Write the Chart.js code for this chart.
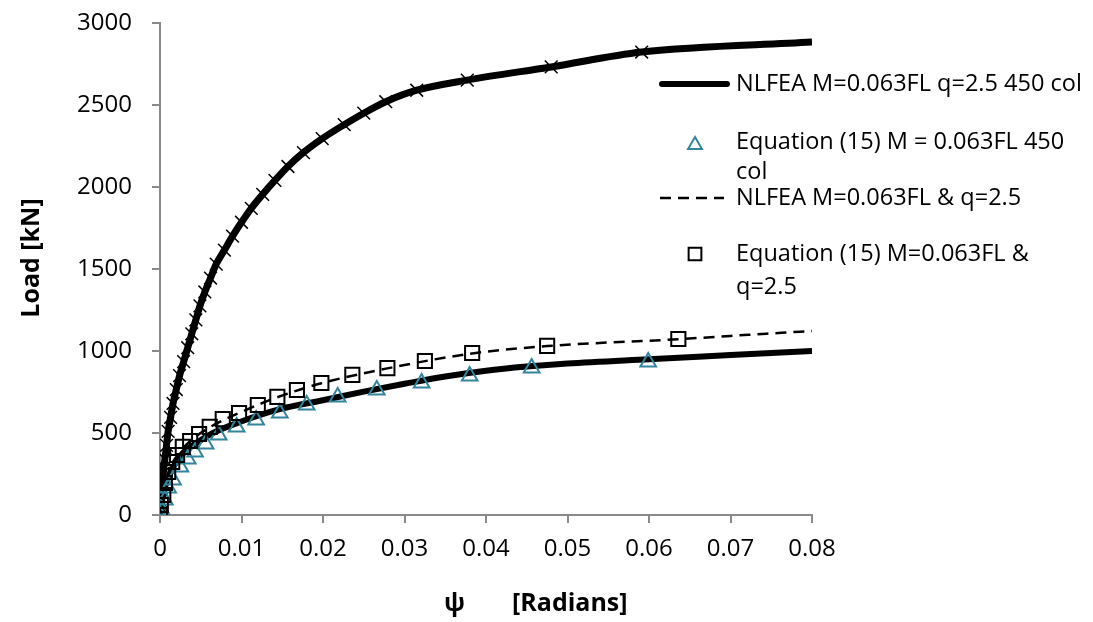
<!DOCTYPE html>
<html>
<head>
<meta charset="utf-8">
<script src="https://cdn.jsdelivr.net/npm/chart.js@4.4.0/dist/chart.umd.min.js"></script>
<style>
  html, body { margin: 0; padding: 0; background: #fff; }
  #wrap { width: 1093px; height: 622px; }
</style>
</head>
<body>
<div id="wrap"><canvas id="loadChart" width="1093" height="622"></canvas></div>
<script>
// rotation psi [rad] against column load [kN]
const upperPsi  = [0, 0.0001, 0.0002, 0.0004, 0.0006, 0.0008, 0.0010, 0.0013, 0.0016, 0.0020, 0.0024, 0.0029, 0.0034, 0.0039, 0.0044, 0.0049, 0.0055, 0.0062, 0.0069, 0.0079, 0.0089, 0.0100, 0.0112, 0.0126, 0.0141, 0.0157, 0.0176, 0.0199, 0.0226, 0.0250, 0.0277, 0.0315, 0.0377, 0.0480, 0.0591, 0.08];
const upperLoad = [0, 85, 170, 255, 340, 425, 510, 595, 680, 765, 850, 935, 1020, 1105, 1190, 1275, 1360, 1445, 1530, 1615, 1700, 1785, 1870, 1955, 2040, 2125, 2210, 2295, 2380, 2450, 2520, 2590, 2652, 2732, 2823, 2884];

// NLFEA M=0.063FL q=2.5 450 col
const col450Psi  = [0, 0.0003, 0.0008, 0.0016, 0.0028, 0.0045, 0.0065, 0.0098, 0.0147, 0.020, 0.025, 0.030, 0.035, 0.040, 0.045, 0.050, 0.060, 0.070, 0.080];
const col450Load = [0, 100, 200, 290, 378, 440, 500, 567, 645, 700, 752, 800, 845, 880, 905, 924, 950, 975, 1000];

// Equation (15) M = 0.063FL 450 col
const eqColPsi  = [0, 0.0002, 0.0006, 0.0010, 0.0016, 0.0025, 0.0034, 0.0043, 0.0056, 0.0072, 0.0094, 0.0118, 0.0147, 0.0180, 0.0218, 0.0266, 0.0321, 0.0380, 0.0456, 0.0599];
const eqColLoad = [0, 30, 91, 165, 213, 293, 341, 384, 433, 488, 537, 579, 622, 671, 720, 762, 805, 848, 896, 933];

// NLFEA M=0.063FL & q=2.5
const q25Psi  = [0, 0.0004, 0.0010, 0.0021, 0.0037, 0.0061, 0.0097, 0.0144, 0.0198, 0.0279, 0.0383, 0.0475, 0.0636, 0.070, 0.080];
const q25Load = [0, 122, 255, 362, 450, 535, 622, 718, 803, 894, 985, 1030, 1072, 1092, 1122];

// Equation (15) M=0.063FL & q=2.5
const eqQPsi  = [0, 0.0001, 0.0004, 0.0006, 0.0010, 0.0015, 0.0021, 0.0028, 0.0037, 0.0048, 0.0061, 0.0077, 0.0097, 0.0120, 0.0144, 0.0168, 0.0198, 0.0236, 0.0279, 0.0325, 0.0383, 0.0475, 0.0636];
const eqQLoad = [0, 61, 122, 195, 262, 323, 366, 415, 451, 494, 537, 585, 622, 671, 720, 762, 805, 854, 896, 939, 988, 1031, 1073];

const xTicks = [0, 0.01, 0.02, 0.03, 0.04, 0.05, 0.06, 0.07, 0.08];
const yTicks = [0, 500, 1000, 1500, 2000, 2500, 3000];

const legendLines = [
  ['NLFEA M=0.063FL q=2.5 450 col'],
  ['Equation (15) M = 0.063FL 450', 'col'],
  ['NLFEA M=0.063FL & q=2.5'],
  ['Equation (15) M=0.063FL &', 'q=2.5']
];

const FONT = '"Open Sans", sans-serif';
const AXIS_GREY = '#8a8a8a';
const TEAL = '#31859c';

function pairs(xs, ys) {
  return xs.map((x, i) => ({ x: x, y: ys[i] }));
}

// legend drawn inside the plot on the right, plus both axis titles
const sideLegend = {
  id: 'sideLegend',
  afterDraw(chart) {
    const ctx = chart.ctx;
    const ds = chart.data.datasets;
    const textX = 736;
    ctx.save();
    ctx.font = '23.5px ' + FONT;
    ctx.textBaseline = 'middle';
    ctx.textAlign = 'left';

    // solid line
    ctx.strokeStyle = '#000';
    ctx.lineWidth = 6;
    ctx.lineCap = 'round';
    ctx.beginPath(); ctx.moveTo(662, 84); ctx.lineTo(727, 84); ctx.stroke();

    // triangle
    ctx.lineCap = 'butt';
    ctx.fillStyle = 'rgba(0,0,0,0)';
    ctx.strokeStyle = TEAL;
    ctx.lineWidth = 2;
    Chart.helpers.drawPoint(ctx, { pointStyle: 'triangle', radius: 8, rotation: 0, borderWidth: 2 }, 695, 145);

    // dashed line
    ctx.strokeStyle = '#000';
    ctx.lineWidth = 2.5;
    ctx.setLineDash(ds[2].borderDash);
    ctx.beginPath(); ctx.moveTo(660, 198); ctx.lineTo(724, 198); ctx.stroke();
    ctx.setLineDash([]);

    // square
    ctx.lineWidth = 2;
    Chart.helpers.drawPoint(ctx, { pointStyle: 'rect', radius: 9, rotation: 0, borderWidth: 2 }, 695, 254);

    ctx.fillStyle = '#000';
    ctx.fillText(legendLines[0][0], textX, 84);
    ctx.fillText(legendLines[1][0], textX, 142);
    ctx.fillText(legendLines[1][1], textX, 172);
    ctx.fillText(legendLines[2][0], textX, 198);
    ctx.fillText(legendLines[3][0], textX, 254);
    ctx.fillText(legendLines[3][1], textX, 287);

    // axis titles
    const a = chart.chartArea;
    ctx.font = 'bold 25px ' + FONT;
    ctx.fillText('ψ', a.left + 284, 604);
    ctx.fillText('[Radians]', a.left + 352, 604);

    ctx.translate(32, 258);
    ctx.rotate(-Math.PI / 2);
    ctx.textAlign = 'center';
    ctx.fillText('Load [kN]', 0, 0);
    ctx.restore();
  }
};

new Chart(document.getElementById('loadChart').getContext('2d'), {
  type: 'scatter',
  data: {
    datasets: [
      {
        label: 'NLFEA upper',
        data: pairs(upperPsi, upperLoad),
        showLine: true,
        borderColor: '#000',
        borderWidth: 7,
        backgroundColor: 'rgba(0,0,0,0)',
        cubicInterpolationMode: 'monotone',
        pointStyle: 'crossRot',
        pointRadius: c => c.dataIndex === upperPsi.length - 1 ? 0 : 9,
        pointBorderColor: '#000',
        pointBorderWidth: 1.5,
        order: 5
      },
      {
        label: legendLines[0].join(' '),
        data: pairs(col450Psi, col450Load),
        showLine: true,
        borderColor: '#000',
        borderWidth: 6,
        cubicInterpolationMode: 'monotone',
        pointRadius: 0,
        order: 4
      },
      {
        label: legendLines[2].join(' '),
        data: pairs(q25Psi, q25Load),
        showLine: true,
        borderColor: '#000',
        borderWidth: 2.5,
        borderDash: [11, 7],
        cubicInterpolationMode: 'monotone',
        pointRadius: 0,
        order: 3
      },
      {
        label: legendLines[1].join(' '),
        data: pairs(eqColPsi, eqColLoad),
        showLine: false,
        pointStyle: 'triangle',
        pointRadius: 9,
        pointBorderColor: TEAL,
        pointBackgroundColor: 'rgba(0,0,0,0)',
        pointBorderWidth: 2,
        order: 2
      },
      {
        label: legendLines[3].join(' '),
        data: pairs(eqQPsi, eqQLoad),
        showLine: false,
        pointStyle: 'rect',
        pointRadius: 10,
        pointBorderColor: '#000',
        pointBackgroundColor: 'rgba(0,0,0,0)',
        pointBorderWidth: 2,
        order: 1
      }
    ]
  },
  options: {
    responsive: false,
    devicePixelRatio: 1,
    animation: false,
    layout: { padding: { left: 0, top: 23, right: 281, bottom: 0 } },
    plugins: {
      legend: { display: false },
      tooltip: { enabled: false }
    },
    scales: {
      x: {
        type: 'linear',
        min: 0,
        max: 0.08,
        afterBuildTicks: s => { s.ticks = xTicks.map(v => ({ value: v })); },
        afterFit: s => { s.height = 107; },
        border: { display: true, color: AXIS_GREY, width: 2 },
        grid: { drawOnChartArea: false, drawTicks: true, tickLength: 8, color: AXIS_GREY, lineWidth: 2 },
        ticks: {
          padding: 12,
          color: '#000',
          font: { family: FONT, size: 24 },
          maxRotation: 0,
          callback: v => v === 0 ? '0' : v.toFixed(2)
        }
      },
      y: {
        type: 'linear',
        min: 0,
        max: 3000,
        afterBuildTicks: s => { s.ticks = yTicks.map(v => ({ value: v })); },
        // keep the label gap from pushing the plot top down
        afterFit: s => { s.width = 160; s.paddingTop = 0; s.paddingBottom = 0; },
        border: { display: true, color: AXIS_GREY, width: 2 },
        grid: { drawOnChartArea: false, drawTicks: true, tickLength: 8, color: AXIS_GREY, lineWidth: 2 },
        ticks: {
          padding: 20,
          color: '#000',
          font: { family: FONT, size: 24 },
          callback: v => String(v)
        }
      }
    }
  },
  plugins: [sideLegend]
});
</script>
</body>
</html>
